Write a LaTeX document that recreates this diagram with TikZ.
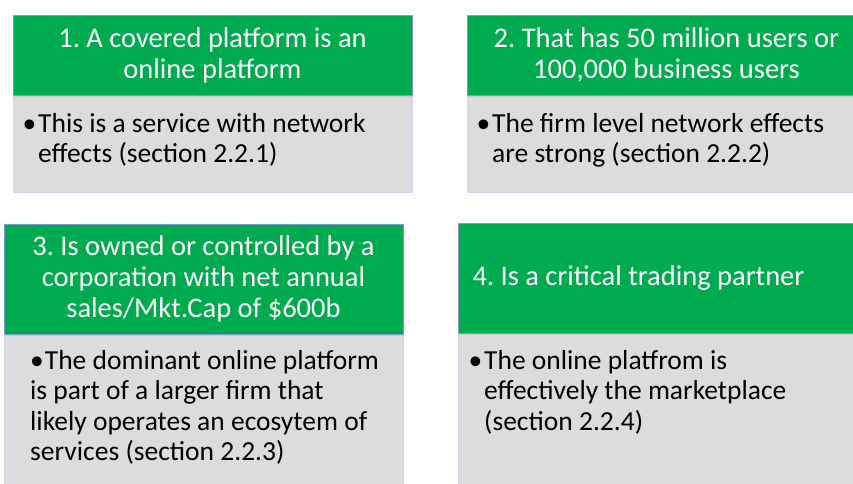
\documentclass[tikz,border=0pt]{standalone}
\usepackage{fontspec}
\setmainfont{Carlito}
\usepackage{tikz}
\usetikzlibrary{positioning,shadows}
\usepackage{xcolor}
\definecolor{hdrgreen}{RGB}{0,170,79}
\definecolor{bodygrey}{RGB}{220,220,220}
\definecolor{hdredge}{RGB}{125,155,215}
\definecolor{bodyedge}{RGB}{205,212,235}
\newcommand{\hangbullet}{\llap{\textbullet\hspace{2pt}}}
\frenchspacing

\begin{document}
\begin{tikzpicture}[x=1pt, y=-1pt,
    header/.style={draw=hdredge, line width=0.6pt, fill=hdrgreen, text=white,
        minimum width=399pt, text width=370pt, inner sep=0pt,
        font=\fontsize{28.5}{31}\selectfont,
        drop shadow={opacity=0.18, shadow xshift=1pt, shadow yshift=-2pt}},
    bodybox/.style={fill=bodygrey, draw=bodyedge, line width=0.6pt},
    bodytext/.style={anchor=north west, inner sep=0pt, align=left,
        font=\fontsize{27.5}{30.5}\selectfont}]
    \clip (0,0) rectangle (853,483);
    \fill[white] (0,0) rectangle (853,483);

    % Block 1: online platform
    \draw[bodybox] (13,95) rectangle (412,192);
    \node[header, minimum height=80pt, align=flush center] (crit1) at (212.5,55)
        {1. A covered platform is an\\online platform};
    \node[bodytext] (note1) at (38,113)
        {\hangbullet This is a service with network\\effects (section 2.2.1)};

    % Block 2: number of users
    \draw[bodybox] (467,95) rectangle (866,192);
    \node[header, minimum height=80pt, align=flush center] (crit2) at (666.5,55)
        {2. That has 50 million users or\\100,000 business users};
    \node[bodytext] (note2) at (492,113)
        {\hangbullet The firm level network effects\\are strong (section 2.2.2)};

    % Block 3: owner size
    \draw[bodybox] (4,333) rectangle (403,490);
    \node[header, minimum height=110pt, align=flush center] (crit3) at (203.5,279)
        {3. Is owned or controlled by a\\corporation with net annual\\sales/Mkt.Cap of \$600b};
    \node[bodytext] (note3) at (30,350)
        {\textbullet\hspace{1pt}The dominant online platform\\is part of a larger firm that\\likely operates an ecosytem of\\services (section 2.2.3)};

    % Block 4: trading partner
    \draw[bodybox] (458,333) rectangle (857,490);
    \node[header, minimum height=110pt, align=flush left] (crit4) at (657.5,278)
        {4. Is a critical trading partner};
    \node[bodytext] (note4) at (484,350)
        {\hangbullet The online platfrom is\\effectively the marketplace\\(section 2.2.4)};
\end{tikzpicture}
\end{document}
